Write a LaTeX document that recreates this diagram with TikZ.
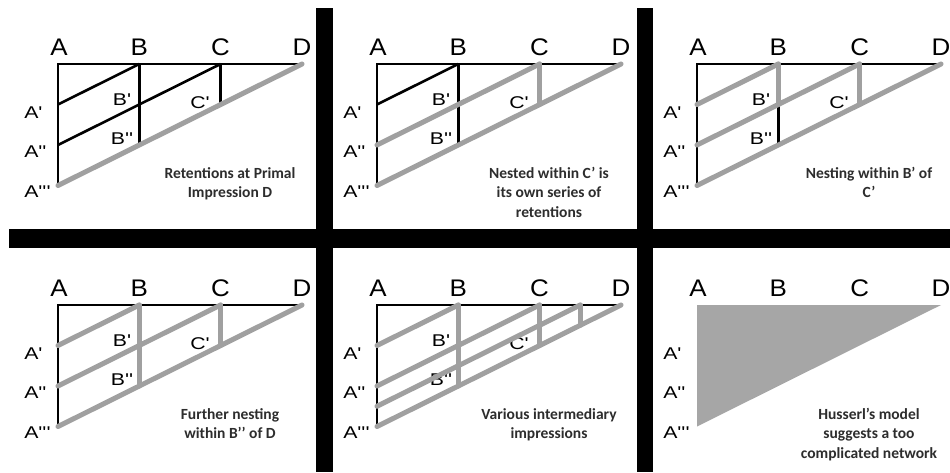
\documentclass[tikz,border=0pt]{standalone}
\usepackage{fontspec}
\newfontfamily\labfont{Liberation Sans}[Ligatures=TeXOff]
\newfontfamily\capfont{Carlito}
\definecolor{lgray}{RGB}{160,160,160}
\definecolor{fgray}{RGB}{166,166,166}
\definecolor{captxt}{RGB}{45,45,45}
\tikzset{
  blk/.style={line width=2.6pt, black, line join=miter},
  gry/.style={line width=5pt, lgray, line cap=round},
  bigl/.style={font=\labfont\fontsize{24}{24}\selectfont, inner sep=0pt, xscale=1.08, transform shape},
  smll/.style={font=\labfont\fontsize{17}{17}\selectfont, inner sep=0pt, xscale=1.25, transform shape},
  capt/.style={font=\capfont\bfseries\fontsize{15.5}{19.5}\selectfont, align=center, text=captxt, anchor=north, inner sep=0pt},
  barfill/.style={fill=black},
}
% prefix, x offset, y offset
\newcommand\setpanel[3]{%
  \begin{scope}[shift={(#2,#3)}]
    \coordinate (#1A) at (0,0);
    \coordinate (#1B) at (81.3,0);
    \coordinate (#1C) at (162.6,0);
    \coordinate (#1D) at (244,0);
    \coordinate (#1A1) at (0,40.5);
    \coordinate (#1A2) at (0,81);
    \coordinate (#1A25) at (0,101.25);
    \coordinate (#1A3) at (0,121.5);
    \coordinate (#1B1) at (81.3,40.5);
    \coordinate (#1B2) at (81.3,81);
    \coordinate (#1C1) at (162.6,40.5);
    \coordinate (#1E) at (203.3,0);
    \coordinate (#1E1) at (203.3,20.25);
    \node[bigl] (#1lA) at (1,-17) {A};
    \node[bigl] (#1lB) at (81.3,-17) {B};
    \node[bigl] (#1lC) at (162.6,-17) {C};
    \node[bigl] (#1lD) at (244,-17) {D};
    \node[smll, anchor=west] (#1lA1) at (-34,49) {A'};
    \node[smll, anchor=west] (#1lA2) at (-34,88) {A''};
    \node[smll, anchor=west] (#1lA3) at (-34,128) {A'''};
  \end{scope}}
\newcommand\innerlabels[3]{%
  \begin{scope}[shift={(#2,#3)}]
    \node[smll] (#1lB1) at (64,36) {B'};
    \node[smll] (#1lB2) at (64,75) {B''};
    \node[smll] (#1lC1) at (142,39) {C'};
  \end{scope}}
\newcommand\captext[4]{%
  \node[capt] (#1cap) at ($(#2,#3)+(172,103)$) {#4};}
\usetikzlibrary{calc}
\begin{document}
\begin{tikzpicture}[x=1pt,y=-1pt]
\useasboundingbox (0,0) rectangle (950,472);
\fill[white] (0,0) rectangle (950,472);

% separators
\fill[barfill] (316,8) rectangle (333,472);
\fill[barfill] (637,8) rectangle (653,472);
\fill[barfill] (9,229) rectangle (950,248);

% panel 1
\setpanel{p}{58}{64}
\innerlabels{p}{58}{64}
\captext{p}{58}{64}{Retentions at Primal\\Impression D}
\draw[blk] (pA3) -- (pA) -- (pD);
\draw[blk] (pA1) -- (pB);
\draw[blk] (pA2) -- (pC);
\draw[blk] (pB) -- (pB2);
\draw[blk] (pC) -- (pC1);
\draw[gry] (pA3) -- (pD);

% panel 2
\setpanel{q}{377}{64}
\innerlabels{q}{377}{64}
\captext{q}{377}{64}{Nested within C’ is\\its own series of\\retentions}
\draw[blk] (qA3) -- (qA) -- (qD);
\draw[blk] (qA1) -- (qB);
\draw[blk] (qB) -- (qB2);
\draw[gry] (qA2) -- (qC);
\draw[gry] (qC) -- (qC1);
\draw[gry] (qA3) -- (qD);

% panel 3
\setpanel{r}{697}{64}
\innerlabels{r}{697}{64}
\captext{r}{697}{64}{Nesting within B’ of\\C’}
\draw[blk] (rA3) -- (rA) -- (rD);
\draw[blk] (rB1) -- (rB2);
\draw[gry] (rA1) -- (rB);
\draw[gry] (rA2) -- (rC);
\draw[gry] (rB) -- (rB1);
\draw[gry] (rC) -- (rC1);
\draw[gry] (rA3) -- (rD);

% panel 4
\setpanel{s}{58}{305}
\innerlabels{s}{58}{305}
\captext{s}{58}{305}{Further nesting\\within B’’ of D}
\draw[blk] (sA3) -- (sA) -- (sD);
\draw[gry] (sA1) -- (sB);
\draw[gry] (sA2) -- (sC);
\draw[gry] (sB) -- (sB2);
\draw[gry] (sC) -- (sC1);
\draw[gry] (sA3) -- (sD);

% panel 5
\setpanel{t}{377}{305}
\innerlabels{t}{377}{305}
\captext{t}{377}{305}{Various intermediary\\impressions}
\draw[blk] (tA3) -- (tA) -- (tD);
\draw[gry] (tA1) -- (tB);
\draw[gry] (tA2) -- (tC);
\draw[gry] (tA25) -- (tE);
\draw[gry] (tB) -- (tB2);
\draw[gry] (tC) -- (tC1);
\draw[gry] (tE) -- (tE1);
\draw[gry] (tA3) -- (tD);

% panel 6
\setpanel{u}{697}{305}
\captext{u}{697}{305}{Husserl’s model\\suggests a too\\complicated network}
\fill[fgray] (uA) -- (uD) -- (uA3) -- cycle;
\end{tikzpicture}
\end{document}
